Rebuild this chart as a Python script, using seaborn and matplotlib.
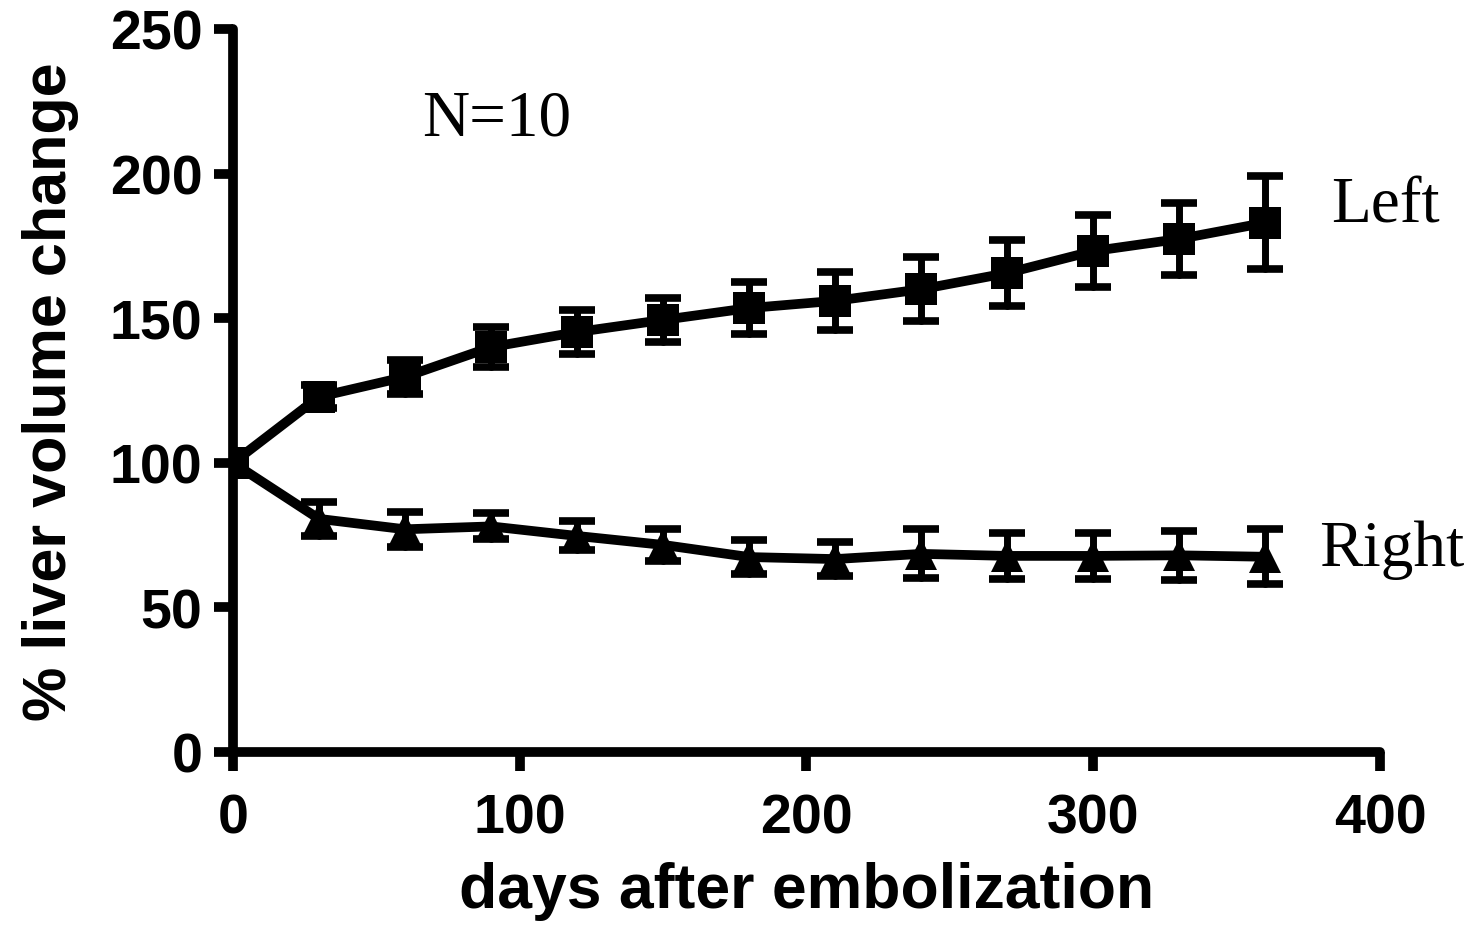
import matplotlib
matplotlib.use("Agg")
import matplotlib.pyplot as plt
import seaborn as sns
import pandas as pd

days = [0, 30, 60, 90, 120, 150, 180, 210, 240, 270, 300, 330, 360]
left_mean = [100, 122.8, 129.7, 140, 145.2, 149.4, 153.5, 156, 160, 165.6, 173.2, 177.4, 183]
left_err = [0, 4, 6, 7, 7.5, 7.5, 9, 10, 11, 11.5, 12.5, 12.5, 16]
right_mean = [100, 80.6, 77, 78, 74.7, 71.6, 67.4, 66.7, 68.5, 67.8, 67.8, 68, 67.5]
right_err = [0, 6, 6, 4.5, 5, 5.5, 6, 6, 8.5, 8, 8, 8.5, 9.5]
x_ticks = [0, 100, 200, 300, 400]
y_ticks = [0, 50, 100, 150, 200, 250]

sns.set_theme(style="ticks")
plt.rcParams['font.family'] = ['Liberation Sans', 'DejaVu Sans']
plt.rcParams['text.color'] = 'black'
plt.rcParams['axes.labelcolor'] = 'black'
plt.rcParams['xtick.color'] = 'black'
plt.rcParams['ytick.color'] = 'black'

fig = plt.figure(figsize=(14.69, 9.28), dpi=100)
ax = fig.add_axes([0.1586, 0.1886, 0.7808, 0.7791])

df = pd.DataFrame({
    "day": days * 2,
    "value": left_mean + right_mean,
    "side": ["Left"] * len(days) + ["Right"] * len(days),
})

for m, e in [(left_mean, left_err), (right_mean, right_err)]:
    xs = [d for d, er in zip(days, e) if er > 0]
    ys = [v for v, er in zip(m, e) if er > 0]
    es = [er for er in e if er > 0]
    ax.errorbar(xs, ys, yerr=es, fmt="none", ecolor="black", elinewidth=5,
                capsize=13, capthick=5.5, zorder=2)

sns.lineplot(data=df, x="day", y="value", hue="side", style="side",
             markers={"Left": "s", "Right": "^"}, dashes=False,
             palette={"Left": "black", "Right": "black"},
             linewidth=7, markersize=23, markeredgewidth=0,
             legend=False, ax=ax, zorder=3)

for line in ax.lines:
    line.set_solid_capstyle("round")
    line.set_solid_joinstyle("round")
for coll in ax.collections:
    coll.set_capstyle("round")

ax.set_xlim(0, 400)
ax.set_ylim(0, 250)
ax.set_xticks(x_ticks)
ax.set_yticks(y_ticks)
ax.set_xlabel("days after embolization", fontsize=45, fontweight="bold", labelpad=12, color="black")
ax.set_ylabel("% liver volume change", fontsize=44, fontweight="bold", labelpad=22, color="black")
ax.tick_params(axis="both", labelsize=40, width=7, length=14, direction="out",
               color="black", labelcolor="black", pad=8)
ax.tick_params(axis="x", pad=15)
for lab in ax.get_xticklabels() + ax.get_yticklabels():
    lab.set_fontweight("bold")

sns.despine(ax=ax)
for s in ["left", "bottom"]:
    ax.spines[s].set_linewidth(7)
    ax.spines[s].set_color("black")
    ax.spines[s].set_capstyle("round")

ax.text(92, 219, "N=10", fontsize=47, family=["Liberation Serif"], ha="center", va="center", color="black")
ax.text(402, 189, "Left", fontsize=47, family=["Liberation Serif"], ha="center", va="center", clip_on=False, color="black")
ax.text(404, 70, "Right", fontsize=47, family=["Liberation Serif"], ha="center", va="center", clip_on=False, color="black")

fig.savefig("out.png", dpi=100)
